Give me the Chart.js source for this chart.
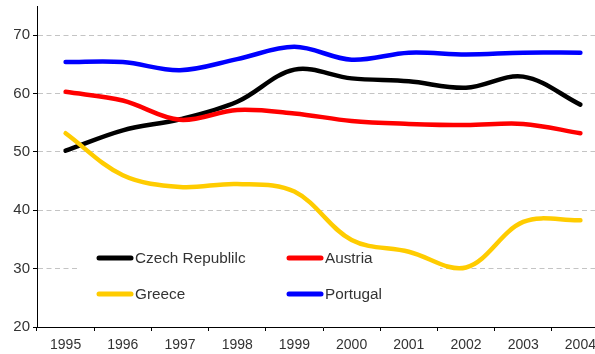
<!DOCTYPE html>
<html>
<head>
<meta charset="utf-8">
<script src="https://cdn.jsdelivr.net/npm/chart.js@4/dist/chart.umd.min.js"></script>
<style>
  html, body { margin: 0; padding: 0; background: #fff; overflow: hidden; }
  #wrap { width: 612px; height: 354px; }
</style>
</head>
<body>
<div id="wrap"><canvas id="chart" width="612" height="354"></canvas></div>
<script>
// Years on the category axis
const years = ['1995', '1996', '1997', '1998', '1999', '2000', '2001', '2002', '2003', '2004'];

// Series values (percent)
const czechRepublic = [50.2, 53.7, 55.6, 58.6, 64.1, 62.6, 62.1, 61.0, 62.9, 58.1];
const austria       = [60.3, 58.8, 55.5, 57.2, 56.6, 55.3, 54.8, 54.6, 54.8, 53.2];
const greece        = [53.2, 46.0, 44.0, 44.5, 43.2, 34.9, 32.9, 30.2, 38.0, 38.3];
const portugal      = [65.4, 65.4, 64.0, 65.9, 68.0, 65.8, 67.0, 66.7, 67.0, 67.0];

// Value axis
const yMin = 20;
const yMax = 75;
const yStep = 10;

const FONT = "'Liberation Sans', Arial, sans-serif";
const TEXT = '#333333';

// Legend drawn as a white box inside the plot, two items per row
const boxLegend = {
  id: 'boxLegend',
  beforeDatasetsDraw(chart) {
    const { ctx, chartArea } = chart;
    const left = chartArea.left;
    ctx.save();
    ctx.fillStyle = '#ffffff';
    ctx.fillRect(left + 43, 240, 360, 72);

    const colX = [left + 60, left + 250];
    const rowY = [258, 294];
    ctx.font = '15.3px ' + FONT;
    ctx.textBaseline = 'middle';
    ctx.textAlign = 'left';
    chart.data.datasets.forEach((ds, i) => {
      const x = colX[i % 2];
      const y = rowY[Math.floor(i / 2)];
      ctx.strokeStyle = ds.borderColor;
      ctx.lineWidth = 5;
      ctx.lineCap = 'round';
      ctx.beginPath();
      ctx.moveTo(x + 2, y);
      ctx.lineTo(x + 34, y);
      ctx.stroke();
      ctx.fillStyle = TEXT;
      ctx.fillText(ds.label, x + 38, y + 1);
    });
    ctx.restore();
  }
};

const lineStyle = {
  borderWidth: 4.5,
  pointRadius: 0,
  pointHoverRadius: 0,
  tension: 0.35,
  borderCapStyle: 'round',
  borderJoinStyle: 'round',
  fill: false
};

new Chart(document.getElementById('chart'), {
  type: 'line',
  data: {
    labels: years,
    datasets: [
      Object.assign({ label: 'Czech Republilc', data: czechRepublic, borderColor: '#000000', order: 4 }, lineStyle),
      Object.assign({ label: 'Austria', data: austria, borderColor: '#ff0000', order: 3 }, lineStyle),
      Object.assign({ label: 'Greece', data: greece, borderColor: '#ffcc00', order: 2 }, lineStyle),
      Object.assign({ label: 'Portugal', data: portugal, borderColor: '#0000ff', order: 1 }, lineStyle)
    ]
  },
  options: {
    responsive: false,
    animation: false,
    devicePixelRatio: 1,
    layout: { padding: { top: 6, right: 3, bottom: 0, left: 0 } },
    plugins: {
      legend: { display: false },
      tooltip: { enabled: false }
    },
    scales: {
      x: {
        offset: true,
        grid: {
          offset: true,
          drawOnChartArea: false,
          drawTicks: true,
          tickLength: 4,
          tickColor: '#000000'
        },
        border: { display: true, color: '#000000', width: 1 },
        ticks: {
          color: TEXT,
          font: { family: FONT, size: 14 },
          padding: 6,
          maxRotation: 0,
          autoSkip: false
        },
        afterFit(scale) {
          scale.height = 27;
          scale.paddingLeft = 0;
          scale.paddingRight = 0;
        }
      },
      y: {
        min: yMin,
        max: yMax,
        afterBuildTicks(scale) {
          scale.ticks = scale.ticks.filter(t => t.value % yStep === 0);
        },
        ticks: {
          stepSize: yStep,
          color: TEXT,
          font: { family: FONT, size: 15 },
          padding: 3
        },
        grid: {
          color: (c) => (c.tick && c.tick.value === yMin) ? 'rgba(0,0,0,0)' : '#c4c4c4',
          lineWidth: 1,
          tickLength: 4,
          tickColor: '#000000',
          tickBorderDash: []
        },
        border: { display: true, color: '#000000', width: 1, dash: [5, 3.5] },
        afterFit(scale) {
          scale.width = 37;
          scale.paddingTop = 0;
          scale.paddingBottom = 0;
        }
      }
    }
  },
  plugins: [boxLegend]
});
</script>
</body>
</html>
